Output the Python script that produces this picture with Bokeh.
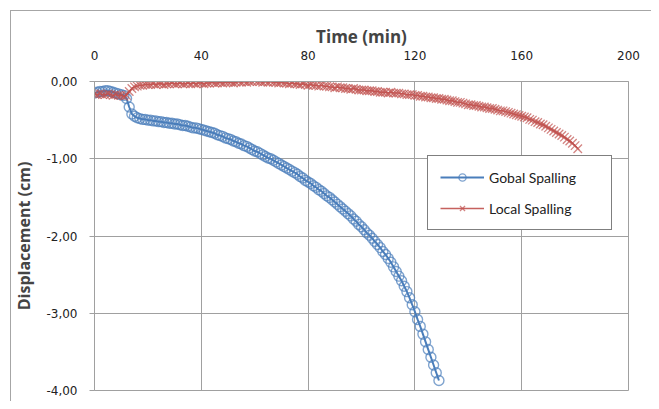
from bokeh.plotting import figure
from bokeh.models import Range1d, FixedTicker, LinearAxis, Legend, LegendItem, Grid
from bokeh.embed import file_html
from bokeh.resources import INLINE

# ---- data (minutes, cm) ----
global_disp = [
    -0.15, -0.14, -0.13, -0.13, -0.12, -0.12, -0.13, -0.14, -0.15, -0.16, -0.17, -0.18,
    -0.22, -0.33, -0.42, -0.45, -0.47, -0.48, -0.49, -0.49, -0.50,
    -0.50, -0.51, -0.51, -0.52, -0.52, -0.53, -0.53, -0.54, -0.54, -0.55,
    -0.55, -0.56, -0.57, -0.57, -0.58, -0.59, -0.60, -0.60, -0.61, -0.62,
    -0.63, -0.64, -0.65, -0.66, -0.67, -0.69, -0.70, -0.71, -0.73, -0.74,
    -0.75, -0.77, -0.78, -0.80, -0.81, -0.83, -0.84, -0.86, -0.88, -0.90,
    -0.91, -0.93, -0.95, -0.97, -0.99, -1.00, -1.02, -1.04, -1.06, -1.08,
    -1.10, -1.12, -1.14, -1.16, -1.18, -1.20, -1.23, -1.25, -1.28, -1.30,
    -1.32, -1.35, -1.37, -1.40, -1.42, -1.45, -1.48, -1.50, -1.53, -1.56,
    -1.59, -1.62, -1.65, -1.68, -1.71, -1.74, -1.78, -1.81, -1.85, -1.88,
    -1.92, -1.96, -1.99, -2.03, -2.07, -2.11, -2.15, -2.20, -2.24, -2.29,
    -2.34, -2.40, -2.46, -2.52, -2.58, -2.65, -2.72, -2.80, -2.89, -2.98,
    -3.08, -3.17, -3.27, -3.37, -3.47, -3.57, -3.67, -3.77, -3.87,
]
global_time = list(range(len(global_disp)))

local_disp = [
    -0.16, -0.17, -0.16, -0.17, -0.17, -0.16, -0.17, -0.18, -0.17, -0.18, -0.18, -0.19, -0.18,
    -0.13, -0.09, -0.07, -0.06, -0.05, -0.05, -0.04, -0.04,
    -0.04, -0.03, -0.04, -0.03, -0.03, -0.04, -0.03, -0.03, -0.02, -0.03,
    -0.03, -0.02, -0.03, -0.03, -0.02, -0.03, -0.02, -0.03, -0.02, -0.02,
    -0.03, -0.02, -0.02, -0.01, -0.02, -0.02, -0.01, -0.02, -0.01, -0.01,
    -0.01, -0.02, -0.01, 0.00, -0.01, 0.00, -0.01, 0.00, 0.00, 0.01,
    0.00, 0.00, -0.01, 0.00, -0.01, 0.00, -0.01, -0.01, -0.02, -0.01,
    -0.02, -0.02, -0.03, -0.02, -0.03, -0.03, -0.04, -0.03, -0.04, -0.05,
    -0.04, -0.05, -0.05, -0.06, -0.05, -0.06, -0.06, -0.07, -0.07, -0.08,
    -0.07, -0.08, -0.08, -0.09, -0.09, -0.10, -0.09, -0.10, -0.11, -0.11,
    -0.11, -0.12, -0.12, -0.12, -0.13, -0.13, -0.14, -0.14, -0.14, -0.15,
    -0.14, -0.15, -0.15, -0.15, -0.16, -0.16, -0.17, -0.17, -0.17, -0.18,
    -0.18, -0.19, -0.19, -0.20, -0.20, -0.21, -0.21, -0.22, -0.22, -0.23,
    -0.23, -0.24, -0.25, -0.25, -0.26, -0.27, -0.27, -0.28, -0.29, -0.30,
    -0.30, -0.31, -0.31, -0.32, -0.33, -0.33, -0.34, -0.35, -0.35, -0.36,
    -0.37, -0.38, -0.38, -0.39, -0.40, -0.41, -0.42, -0.43, -0.44, -0.45,
    -0.46, -0.47, -0.49, -0.50, -0.52, -0.53, -0.55, -0.56, -0.58, -0.60,
    -0.62, -0.64, -0.66, -0.68, -0.70, -0.72, -0.75, -0.77, -0.80, -0.83, -0.87,
]
local_time = list(range(len(local_disp)))

x_ticks = [0, 40, 80, 120, 160, 200]
y_ticks = [0, -1, -2, -3, -4]
y_tick_labels = ["0,00", "-1,00", "-2,00", "-3,00", "-4,00"]
series_names = ["Gobal Spalling", "Local Spalling"]

GRID = "#a0a0a0"
BLUE = "#4a7ebb"
RED = "#c0504d"

p = figure(width=651, height=401, output_backend="svg", toolbar_location=None,
           x_range=Range1d(0, 200), y_range=Range1d(-4, 0),
           x_axis_location=None, y_axis_location=None,
           min_border_left=94, min_border_right=23, min_border_top=81, min_border_bottom=11)

p.outline_line_color = GRID
p.background_fill_color = "white"
p.border_fill_alpha = 0
# outer chart-area border (left and top edges of the Excel chart area)
p.styles = {
    "background": ("linear-gradient(#a6a6a6, #a6a6a6) 10px 10px / 1px 100% no-repeat, "
                   "linear-gradient(#a6a6a6, #a6a6a6) 10px 10px / 100% 1px no-repeat, white"),
}

xaxis = LinearAxis(ticker=FixedTicker(ticks=x_ticks), axis_label="Time (min)")
xaxis.axis_line_color = GRID
xaxis.major_tick_out = 0
xaxis.major_tick_in = 0
xaxis.minor_tick_out = 0
xaxis.minor_tick_in = 0
xaxis.major_label_standoff = 22
xaxis.major_label_text_font = "DejaVu Sans"
xaxis.major_label_text_font_size = "12px"
xaxis.major_label_text_color = "#222222"
xaxis.axis_label_text_font = "Open Sans"
xaxis.axis_label_text_font_style = "bold"
xaxis.axis_label_text_font_size = "17px"
xaxis.axis_label_standoff = 0
p.add_layout(xaxis, "above")

yaxis = LinearAxis(ticker=FixedTicker(ticks=y_ticks), axis_label="Displacement (cm)")
yaxis.major_label_overrides = {t: s for t, s in zip(y_ticks, y_tick_labels)}
yaxis.axis_line_color = GRID
yaxis.major_tick_out = 5
yaxis.major_tick_in = 0
yaxis.major_tick_line_color = GRID
yaxis.minor_tick_out = 0
yaxis.minor_tick_in = 0
yaxis.major_label_standoff = 12
yaxis.major_label_text_font = "DejaVu Sans"
yaxis.major_label_text_font_size = "12px"
yaxis.major_label_text_color = "#222222"
yaxis.axis_label_text_font = "Open Sans"
yaxis.axis_label_text_font_style = "bold"
yaxis.axis_label_text_font_size = "16px"
yaxis.axis_label_standoff = 8
p.add_layout(yaxis, "left")

p.xgrid.grid_line_color = None
p.ygrid.grid_line_color = None
p.add_layout(Grid(dimension=0, ticker=xaxis.ticker, grid_line_color=GRID, grid_line_width=1))
p.add_layout(Grid(dimension=1, ticker=yaxis.ticker, grid_line_color=GRID, grid_line_width=1))

gl = p.line(global_time, global_disp, line_color=BLUE, line_width=2)
gs = p.scatter(global_time, global_disp, marker="circle", size=10, fill_color=None,
               line_color=BLUE, line_alpha=0.7, line_width=1.4)
ll = p.line(local_time, local_disp, line_color=RED, line_width=1.5, line_alpha=0.9)
ls = p.scatter(local_time, local_disp, marker="x", size=12,
               line_color=RED, line_alpha=0.7, line_width=1.3)

legend = Legend(items=[LegendItem(label=series_names[0], renderers=[gl, gs]),
                       LegendItem(label=series_names[1], renderers=[ll, ls])],
                location=(333, 160))
legend.border_line_color = "black"
legend.border_line_width = 1
legend.background_fill_color = "white"
legend.background_fill_alpha = 1
legend.padding = 12
legend.spacing = 13
legend.glyph_width = 44
legend.glyph_height = 18
legend.label_standoff = 5
legend.label_width = 110
legend.label_text_font = "Lato"
legend.label_text_font_size = "14px"
legend.label_text_color = "#222222"
legend.margin = 0
p.add_layout(legend, "center")

open("out.html", "w").write(file_html(p, INLINE))
